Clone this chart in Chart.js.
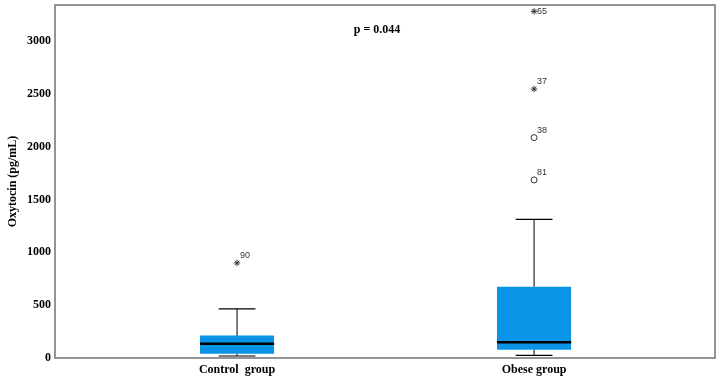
<!DOCTYPE html>
<html>
<head>
<meta charset="utf-8">
<script src="https://cdn.jsdelivr.net/npm/chart.js@4/dist/chart.umd.min.js"></script>
<style>
html,body{margin:0;padding:0;background:#fff;}
#wrap{width:720px;height:382px;}
</style>
</head>
<body>
<div id="wrap"><canvas id="c" width="720" height="382"></canvas></div>
<script>
// ---- data ----
const categories = ['Control  group', 'Obese group'];
const whiskerLow  = [19, 25];
const q1          = [40, 78];
const median      = [135, 148];
const q3          = [212, 675];
const whiskerHigh = [465, 1312];
// outliers: category index, value, case label, marker type
const outlierCat    = [0, 1, 1, 1, 1];
const outlierValue  = [900, 1685, 2085, 2545, 3280];
const outlierLabel  = ['90', '81', '38', '37', '65'];
const outlierStyle  = ['star', 'circle', 'circle', 'star', 'star'];
const yTicks = [0, 500, 1000, 1500, 2000, 2500, 3000];
const pText = 'p = 0.044';

// ---- style ----
const BOX_HALF = 0.125;
const CAP_HALF = 0.062;
const BLUE = '#0b93e8';
const serifBold = {family: '"Liberation Serif", "Times New Roman", serif', size: 12, weight: 'bold'};

const datasets = [];
categories.forEach((c, i) => {
  datasets.push({type:'line', data:[{x:i-BOX_HALF,y:q3[i]},{x:i+BOX_HALF,y:q3[i]}],
    borderColor:BLUE, borderWidth:0, backgroundColor:BLUE, fill:{value:q1[i]}, pointRadius:0, order:5});
  datasets.push({type:'line', data:[{x:i,y:q3[i]},{x:i,y:whiskerHigh[i]}], borderColor:'#000', borderWidth:1, pointRadius:0, fill:false});
  datasets.push({type:'line', data:[{x:i,y:whiskerLow[i]},{x:i,y:q1[i]}], borderColor:'#000', borderWidth:1, pointRadius:0, fill:false});
  datasets.push({type:'line', data:[{x:i-CAP_HALF,y:whiskerHigh[i]},{x:i+CAP_HALF,y:whiskerHigh[i]}], borderColor:'#000', borderWidth:1.2, pointRadius:0, fill:false});
  datasets.push({type:'line', data:[{x:i-CAP_HALF,y:whiskerLow[i]},{x:i+CAP_HALF,y:whiskerLow[i]}], borderColor:'#000', borderWidth:1.2, pointRadius:0, fill:false});
  datasets.push({type:'line', data:[{x:i-BOX_HALF,y:median[i]},{x:i+BOX_HALF,y:median[i]}], borderColor:'#000', borderWidth:2.5, pointRadius:0, fill:false, order:0});
});
datasets.push({type:'scatter', data: outlierValue.map((v,k)=>({x:outlierCat[k], y:v})),
  pointStyle: outlierStyle, pointRadius: outlierStyle.map(s=> s==='star'?3.2:3),
  borderColor:'#333', borderWidth:1, backgroundColor:'rgba(0,0,0,0)'});

const annot = {
  id:'annot',
  beforeDraw(chart){
    const ctx = chart.ctx;
    ctx.save(); ctx.fillStyle='#fff'; ctx.fillRect(0,0,chart.width,chart.height); ctx.restore();
  },
  afterDraw(chart){
    const a = chart.chartArea, ctx = chart.ctx;
    const xs = chart.scales.x, ys = chart.scales.y;
    ctx.save();
    ctx.strokeStyle='#7a7a7a'; ctx.lineWidth=1.6;
    ctx.strokeRect(a.left, a.top, a.right-a.left, a.bottom-a.top);
    ctx.fillStyle='#333'; ctx.font='9px "Liberation Sans", Arial, sans-serif';
    ctx.textAlign='left'; ctx.textBaseline='alphabetic';
    outlierValue.forEach((v,k)=>{
      const px = xs.getPixelForValue(outlierCat[k]), py = ys.getPixelForValue(v);
      if (k===4) ctx.fillText(outlierLabel[k], px+3, py+3);
      else ctx.fillText(outlierLabel[k], px+3, py-5);
    });
    ctx.fillStyle='#000'; ctx.font='bold 12px "Liberation Serif", "Times New Roman", serif';
    ctx.textAlign='center'; ctx.textBaseline='middle';
    ctx.fillText(pText, 377, 30);
    ctx.restore();
  }
};

new Chart(document.getElementById('c'), {
  type:'line',
  data:{datasets},
  plugins:[annot],
  options:{
    responsive:false, animation:false, devicePixelRatio:1,
    layout:{padding:{top:4, right:5, left:0, bottom:0}},
    plugins:{legend:{display:false}, tooltip:{enabled:false}},
    scales:{
      x:{type:'linear', min:-0.6128, max:1.609,
        grid:{display:false, drawTicks:false}, border:{display:false},
        afterBuildTicks(s){ s.ticks = categories.map((c,i)=>({value:i})); },
        ticks:{color:'#000', font:serifBold, padding:5, maxRotation:0, autoSkip:false,
          callback:(v)=>categories[v]},
        afterFit(s){ s.height = 24; s.paddingLeft = 0; s.paddingRight = 0; }
      },
      y:{type:'linear', min:0, max:3340,
        grid:{display:false, drawTicks:false}, border:{display:false},
        afterBuildTicks(s){ s.ticks = yTicks.map(v=>({value:v})); },
        ticks:{color:'#000', font:serifBold, padding:4, callback:(v)=>String(v)},
        title:{display:true, text:'Oxytocin (pg/mL)', color:'#000', font:serifBold, padding:{top:6,bottom:0}},
        afterFit(s){ s.width = 55; s.paddingTop = 0; s.paddingBottom = 0; }
      }
    }
  }
});
</script>
</body>
</html>
